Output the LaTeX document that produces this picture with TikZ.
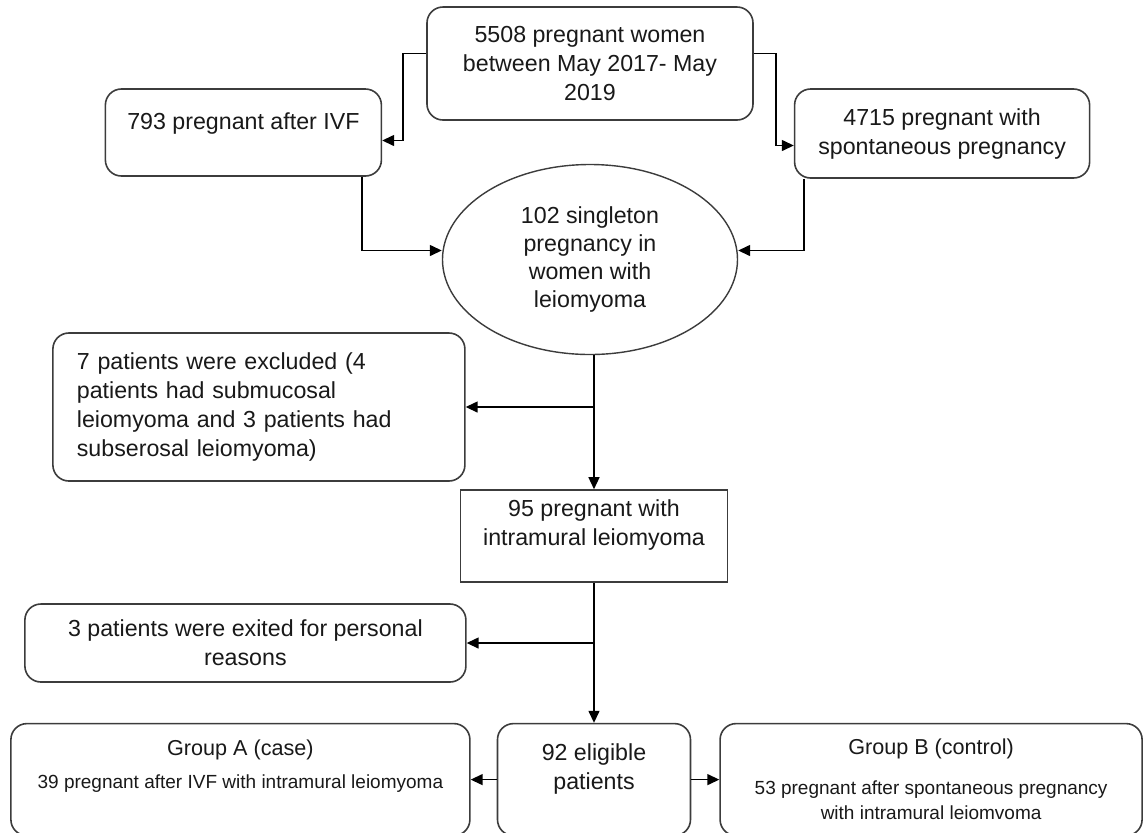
\documentclass[tikz,border=0pt]{standalone}
\usepackage{fontspec}
\setmainfont{Liberation Sans}
\usepackage{tikz}
\usetikzlibrary{shapes.geometric, arrows.meta, positioning}
\definecolor{grisBorde}{RGB}{60,60,60}
\definecolor{grisTexto}{RGB}{25,25,25}
\newcommand{\lowpad}[1]{\rule[-#1]{0pt}{0pt}}
\tikzset{
  fl/box/.style={rectangle, rounded corners=8pt, draw=grisBorde, fill=white,
    line width=0.8pt, align=center, inner sep=0pt,
    font=\fontsize{11.6}{14.5}\selectfont\color{grisTexto}},
  fl/sq/.style={fl/box, sharp corners},
  fl/oval/.style={ellipse, draw=grisBorde, fill=white, line width=0.7pt,
    align=center, inner sep=0pt,
    font=\fontsize{11.6}{14}\selectfont\color{grisTexto}},
  fl/grp/.style={fl/box, font=\fontsize{9.5}{12.5}\selectfont\color{grisTexto}},
  fl/arr/.style={-{Triangle[length=6pt,width=5.5pt]}, line width=0.7pt,
    draw=black}
}

\begin{document}
\begin{tikzpicture}
  \useasboundingbox (-295pt,-384.25pt) rectangle (277.5pt,31.75pt);
  \clip (-295pt,-384.25pt) rectangle (277.5pt,31.75pt);

  \node[fl/box, minimum width=163pt, minimum height=56.5pt] (src)
        {5508 pregnant women\\between May 2017- May\\2019};
  \node[fl/box, minimum width=138pt, minimum height=43.5pt,
        left=22pt of src, yshift=-34.5pt] (ivf)
        {793 pregnant after IVF\lowpad{11pt}};
  \node[fl/box, minimum width=147.5pt, minimum height=44.5pt,
        right=20pt of src, yshift=-35pt] (spont)
        {4715 pregnant with\\spontaneous pregnancy};
  \node[fl/oval, minimum width=147.5pt, minimum height=95pt,
        below=21.5pt of src] (ell)
        {102 singleton\\pregnancy in\\women with\\leiomyoma};
  \node[fl/sq, minimum width=133.5pt, minimum height=46pt,
        below=67pt of ell, xshift=2pt] (n95)
        {95 pregnant with\\intramural leiomyoma\lowpad{13pt}};
  \node[fl/box, anchor=east, xshift=3pt, yshift=64.5pt, text width=182pt,
        align=left, inner xsep=12pt, minimum height=74pt] (excl) at (n95.west)
        {7 patients were excluded (4\\patients had submucosal\\
         leiomyoma and 3 patients had\\subserosal leiomyoma)};
  \node[fl/box, anchor=east, xshift=3.5pt, yshift=-53.5pt,
        minimum width=220.5pt, minimum height=39pt] (exit) at (n95.west)
        {3 patients were exited for personal\\reasons};
  \node[fl/box, minimum width=96.5pt, minimum height=56pt,
        below=70pt of n95] (n92)
        {92 eligible\\patients\lowpad{13pt}};
  \node[fl/grp, minimum width=229.5pt, minimum height=56pt,
        left=13pt of n92] (grpA)
        {{\fontsize{10.8}{13}\selectfont Group A (case)}\\[4pt]
         39 pregnant after IVF with intramural leiomyoma\lowpad{15pt}};
  \node[fl/grp, minimum width=211pt, minimum height=56pt,
        right=14pt of n92] (grpB)
        {{\fontsize{10.8}{13}\selectfont Group B (control)}\\[7.5pt]
         53 pregnant after spontaneous pregnancy\\with intramural leiomvoma};

  \draw[fl/arr] ([yshift=5pt]src.west) -- ++(-11.5pt,0) |- ([yshift=-4pt]ivf.east);
  \draw[fl/arr] ([yshift=5pt]src.east) -- ++(11pt,0) |- ([yshift=-6pt]spont.west);
  \draw[fl/arr] ([xshift=-10pt]ivf.south east) |- ([yshift=4.5pt]ell.west);
  \draw[fl/arr] ([xshift=5pt]spont.south west) |- ([yshift=4.5pt]ell.east);
  \draw[fl/arr] (ell.south -| n95.north) -- (n95.north);
  \draw[fl/arr] (n95.north |- excl.east) -- (excl.east);
  \draw[fl/arr] (n95.south) -- (n92.north);
  \draw[fl/arr] (n95.south |- exit.east) -- (exit.east);
  \draw[fl/arr] (n92.west) -- (grpA.east);
  \draw[fl/arr] (n92.east) -- (grpB.west);
\end{tikzpicture}
\end{document}
